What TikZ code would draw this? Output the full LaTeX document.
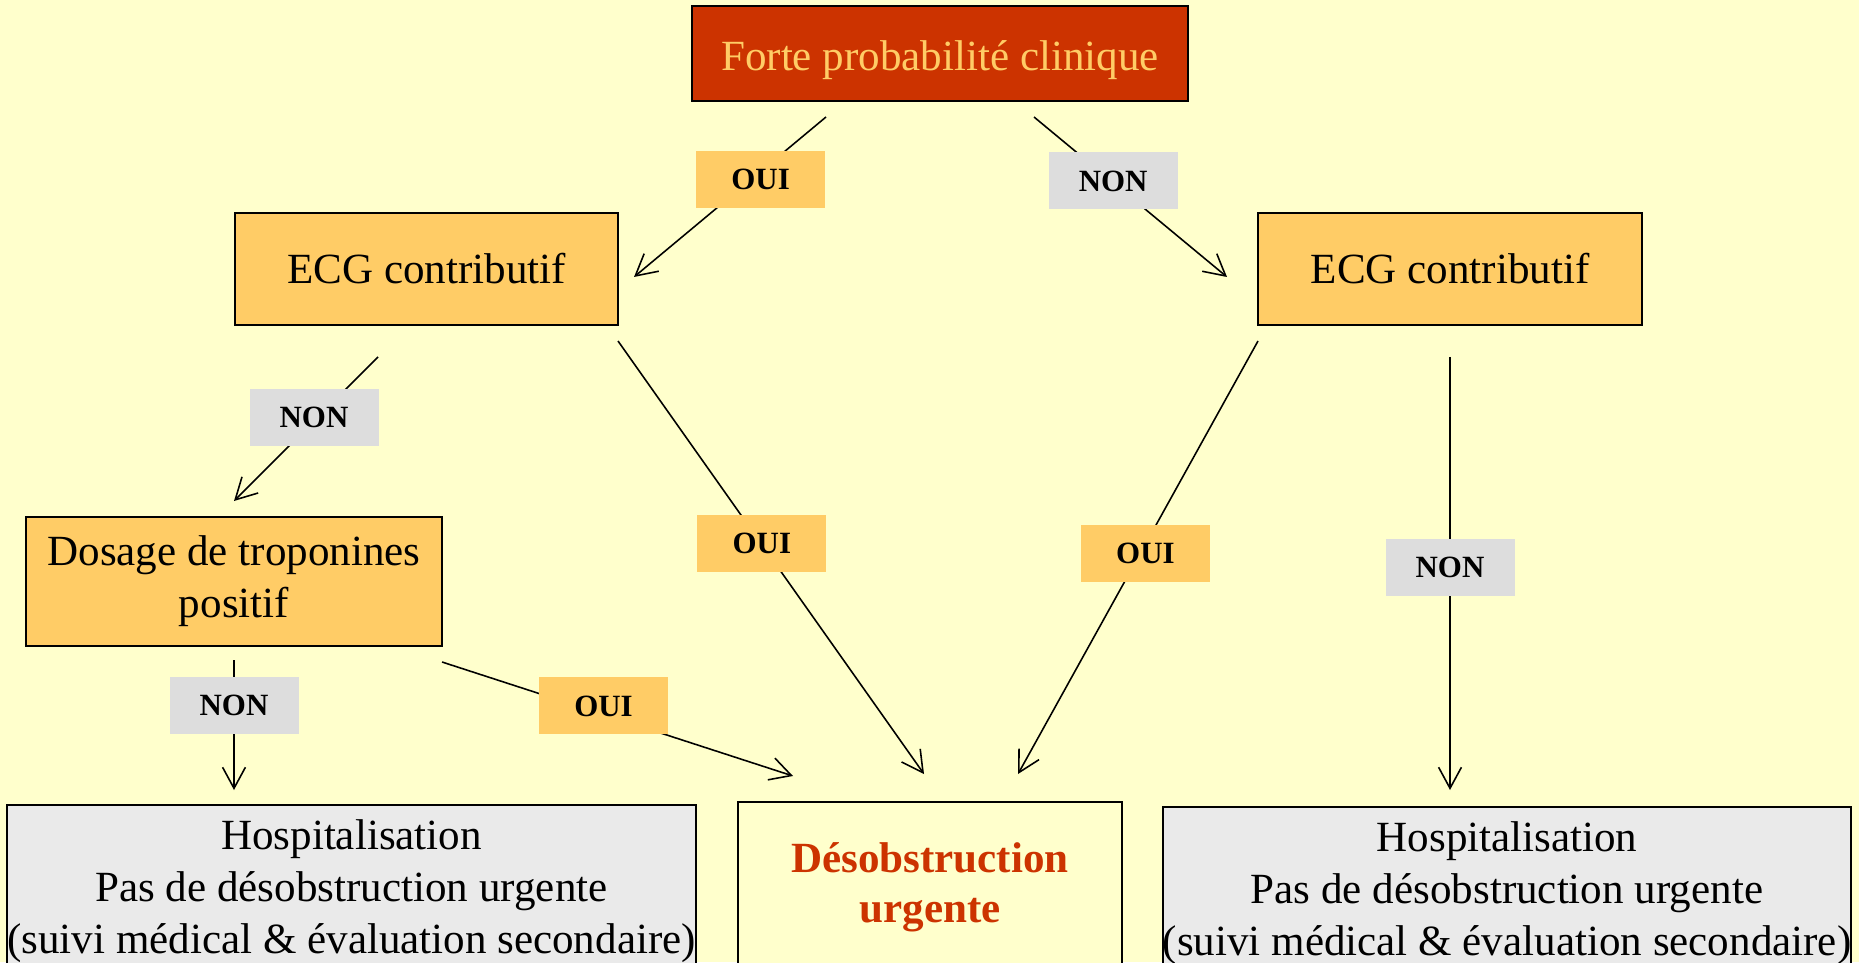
\documentclass[tikz,border=0pt]{standalone}
\usepackage{fontspec}
\setmainfont{Liberation Serif}
\usetikzlibrary{calc,arrows.meta}
\definecolor{fond}{HTML}{FFFFCC}
\definecolor{brique}{HTML}{CC3300}
\definecolor{jaune}{HTML}{FFCC66}
\definecolor{gris}{HTML}{DDDDDD}
\definecolor{grisclair}{HTML}{EAEAEA}
\tikzset{
    boite/.style={draw, line width=1.2pt, fill=jaune, align=center, inner sep=0pt,
      font=\fontsize{24.5}{29.6}\selectfont},
    oui/.style={fill=jaune, inner sep=0pt, minimum width=2.58cm, minimum height=1.14cm,
      font=\fontsize{17.6}{20}\selectfont\bfseries},
    non/.style={oui, fill=gris},
    fleche/.style={line width=0.9pt, -{Straight Barb[length=12pt,width=13pt]}},
  }
\begin{document}
\begin{tikzpicture}
			          %fond
			          \fill[fond] (0,0) rectangle (37.18,19.24);
			          \useasboundingbox (0,0) rectangle (37.18,19.24);

				  %BOITES
				  \node[boite, fill=brique, text=jaune, minimum width=9.92cm, minimum height=1.9cm, text height=24pt] (forte) at (18.8,18.17) {Forte probabilité clinique};
				  \node[boite, minimum width=7.66cm, minimum height=2.24cm] (ecgG) at (8.53,13.86) {ECG contributif};
				  \node[boite, minimum width=7.68cm, minimum height=2.24cm] (ecgD) at (29.0,13.86) {ECG contributif};
				  \node[boite, minimum width=8.32cm, minimum height=2.58cm] (dosage) at (4.68,7.61) {Dosage de troponines\\positif};
				  \node[boite, fill=grisclair, anchor=north, minimum width=13.74cm, minimum height=3.44cm] (hospG) at (7.03,3.16) {Hospitalisation\\Pas de désobstruction urgente\\(suivi médical \& évaluation secondaire)};
				  \node[boite, fill=fond, text=brique, anchor=north, minimum width=7.68cm, minimum height=3.4cm, font=\fontsize{24.5}{28.5}\selectfont\bfseries] (deso) at (18.6,3.22) {Désobstruction\\urgente};
				  \node[boite, fill=grisclair, anchor=north, minimum width=13.76cm, minimum height=3.44cm] (hospD) at (30.14,3.12) {Hospitalisation\\Pas de désobstruction urgente\\(suivi médical \& évaluation secondaire)};

				  %extremites des fleches
				  \coordinate (a1) at (16.52,16.9);  \coordinate (b1) at (12.68,13.7);
				  \coordinate (a2) at (20.68,16.9);  \coordinate (b2) at (24.54,13.7);
				  \coordinate (a3) at (7.56,12.1);   \coordinate (b3) at (4.68,9.22);
				  \coordinate (a4) at (12.36,12.42); \coordinate (b4) at (18.48,3.76);
				  \coordinate (a5) at (25.16,12.42); \coordinate (b5) at (20.36,3.76);
				  \coordinate (a6) at (29.0,12.1);   \coordinate (b6) at (29.0,3.44);
				  \coordinate (a7) at (4.68,6.04);   \coordinate (b7) at (4.68,3.44);
				  \coordinate (a8) at (8.84,6.0);    \coordinate (b8) at (15.86,3.72);

				  %FLECHES et OUI/NON
				  \draw[fleche] (a1) -- (b1) node[oui, pos=0.39, xshift=0.19cm] (oui1) {OUI};
				  \draw[fleche] (a2) -- (b2) node[non, pos=0.40, xshift=0.04cm] (non1) {NON};
				  \draw[fleche] (a3) -- (b3) node[non, pos=0.42, xshift=-0.07cm] (non2) {NON};
				  \draw[fleche] (a4) -- (b4) node[oui, pos=0.47, yshift=0.03cm] (oui2) {OUI};
				  \draw[fleche] (a5) -- (b5) node[oui, pos=0.49, xshift=0.1cm] (oui3) {OUI};
				  \draw[fleche] (a6) -- (b6) node[non, pos=0.485] (non3) {NON};
				  \draw[fleche] (a7) -- (b7) node[non, pos=0.35] (non4) {NON};
				  \draw[fleche] (a8) -- (b8) node[oui, pos=0.46, yshift=0.17cm] (oui4) {OUI};
\end{tikzpicture}
\end{document}
